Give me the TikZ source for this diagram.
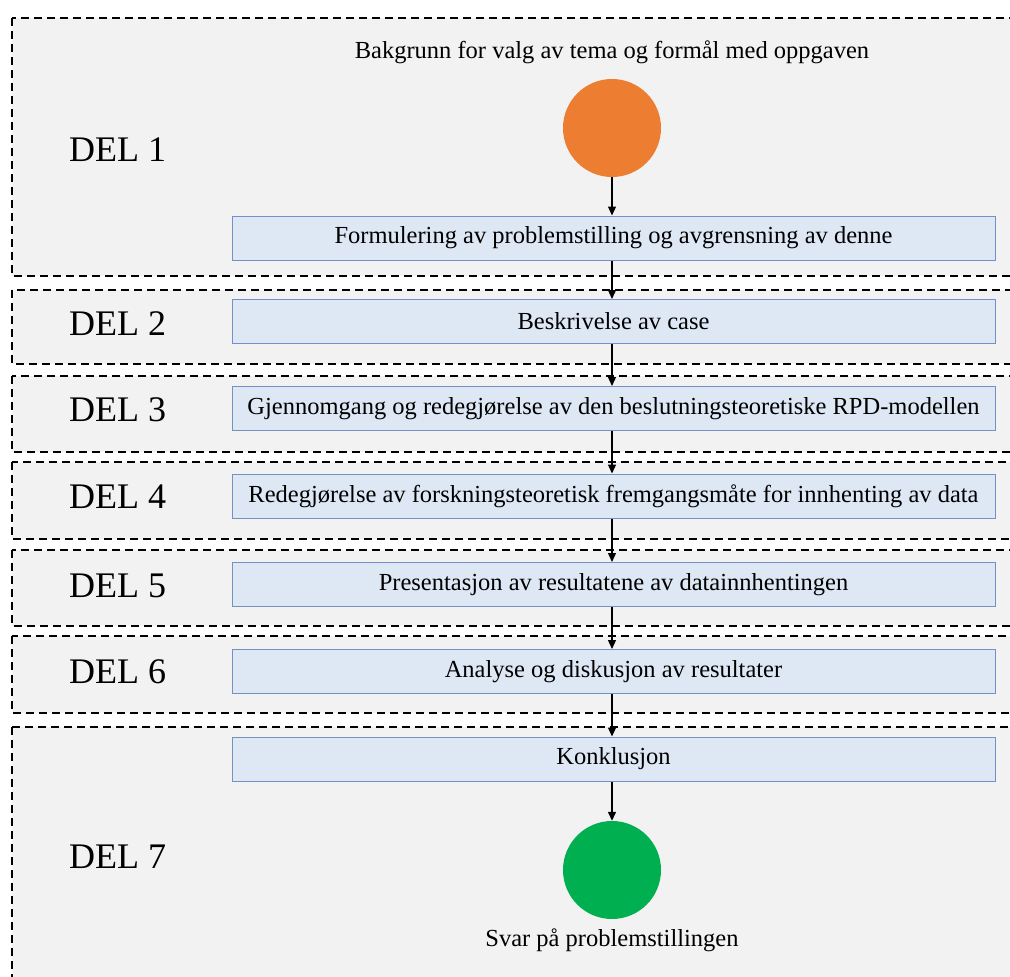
\documentclass[tikz,border=0pt]{standalone}
\usepackage{fontspec}
\setmainfont{Liberation Serif}
\usetikzlibrary{arrows.meta}
\definecolor{framebg}{HTML}{F2F2F2}
\definecolor{boxfill}{HTML}{DEE8F5}
\definecolor{boxline}{HTML}{7391C4}
\definecolor{orangec}{HTML}{ED7D31}
\definecolor{greenc}{HTML}{00B050}
\tikzset{
  part/.style={draw=black, fill=framebg, line width=1.2pt, dash pattern=on 8pt off 5pt},
  stepbox/.style={draw=boxline, fill=boxfill, line width=1pt, minimum width=763pt, minimum height=44pt, inner sep=0pt, font=\fontsize{24.5}{28}\selectfont},
  dellabel/.style={anchor=west, font=\fontsize{36}{40}\selectfont, inner sep=0pt},
  caption/.style={font=\fontsize{24.5}{28}\selectfont, inner sep=0pt},
  flow/.style={line width=1.3pt, -{Triangle[length=9pt,width=8pt]}},
  endc/.style={circle, minimum size=98pt, inner sep=0pt}
}
\begin{document}
\begin{tikzpicture}[x=1pt,y=-1pt]
\useasboundingbox (0,0) rectangle (1010,977);
\clip (0,0) rectangle (1010,977);
\fill[white] (0,0) rectangle (1010,977);
% part frames
\draw[part] (12,18) rectangle (1030,276);
\draw[part] (12,290) rectangle (1030,364);
\draw[part] (12,376) rectangle (1030,452);
\draw[part] (12,462) rectangle (1030,539);
\draw[part] (12,550) rectangle (1030,626);
\draw[part] (12,636) rectangle (1030,713);
\draw[part] (12,727) rectangle (1030,1000);
% labels
\node[dellabel] (d1) at (69,150) {DEL 1};
\node[dellabel] (d2) at (69,324) {DEL 2};
\node[dellabel] (d3) at (69,410) {DEL 3};
\node[dellabel] (d4) at (69,497) {DEL 4};
\node[dellabel] (d5) at (69,586) {DEL 5};
\node[dellabel] (d6) at (69,672) {DEL 6};
\node[dellabel] (d7) at (69,857) {DEL 7};
% start
\node[caption] (top) at (612,52) {Bakgrunn for valg av tema og formål med oppgaven};
\node[endc, fill=orangec] (start) at (612,128) {};
% boxes
\node[stepbox] (b1) at (613.5,238) {Formulering av problemstilling og avgrensning av denne};
\node[stepbox] (b2) at (613.5,321.5) {Beskrivelse av case};
\node[stepbox] (b3) at (613.5,408.5) {Gjennomgang og redegjørelse av den beslutningsteoretiske RPD-modellen};
\node[stepbox] (b4) at (613.5,496) {Redegjørelse av forskningsteoretisk fremgangsmåte for innhenting av data};
\node[stepbox] (b5) at (613.5,584.5) {Presentasjon av resultatene av datainnhentingen};
\node[stepbox] (b6) at (613.5,671.5) {Analyse og diskusjon av resultater};
\node[stepbox] (b7) at (613.5,759) {Konklusjon};
% end
\node[endc, fill=greenc] (end) at (612,870) {};
\node[caption] (bottom) at (612,940) {Svar på problemstillingen};
% arrows
\draw[flow] (start) -- (b1.north -| start);
\draw[flow] (b1.south -| start) -- (b2.north -| start);
\draw[flow] (b2.south -| start) -- (b3.north -| start);
\draw[flow] (b3.south -| start) -- (b4.north -| start);
\draw[flow] (b4.south -| start) -- (b5.north -| start);
\draw[flow] (b5.south -| start) -- (b6.north -| start);
\draw[flow] (b6.south -| start) -- (b7.north -| start);
\draw[flow] (b7.south -| start) -- (end);
\end{tikzpicture}
\end{document}
